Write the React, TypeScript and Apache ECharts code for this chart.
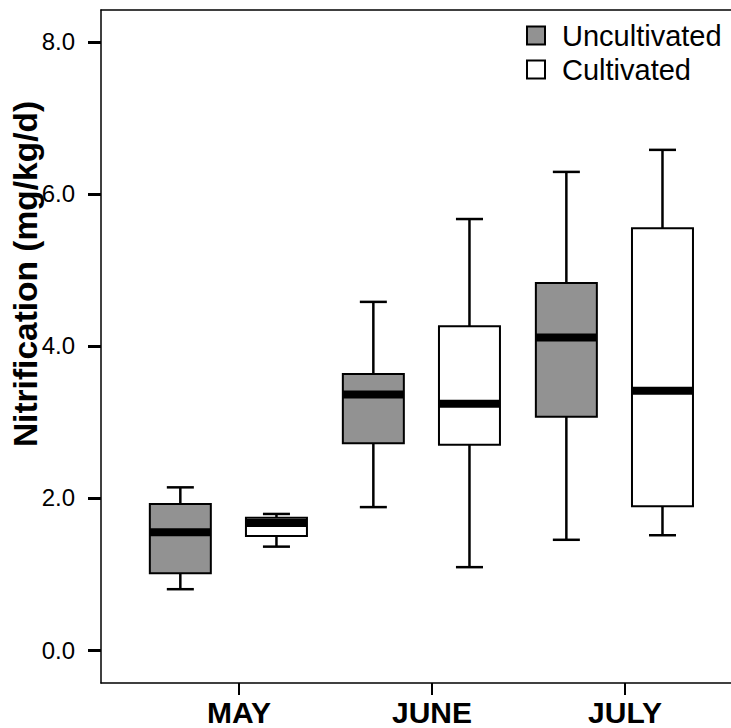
import React, { useEffect, useRef } from "react";
import * as echarts from "echarts";

// ---- data ----
const months = ["MAY", "JUNE", "JULY"];
// [min, Q1, median, Q3, max]
const uncultivated = [
  [0.8, 1.01, 1.55, 1.92, 2.14],
  [1.88, 2.72, 3.36, 3.63, 4.58],
  [1.45, 3.07, 4.11, 4.83, 6.29],
];
const cultivated = [
  [1.36, 1.5, 1.67, 1.74, 1.79],
  [1.09, 2.7, 3.24, 4.26, 5.67],
  [1.51, 1.89, 3.41, 5.55, 6.58],
];
const yTicks = [0, 2, 4, 6, 8];
const seriesNames = ["Uncultivated", "Cultivated"];

// ---- style ----
const FONT = "'Liberation Sans', Arial, Helvetica, sans-serif";
const GRAY = "#929292";
const OFFSETS = [-0.304, 0.194];
const BOX_W = 0.316;
const CAP_W = 0.14;

function makeRender(fill: string) {
  return (params: any, api: any) => {
    const x = api.value(0) + OFFSETS[params.seriesIndex];
    const pMin = api.coord([x, api.value(1)]);
    const pQ1 = api.coord([x, api.value(2)]);
    const pMed = api.coord([x, api.value(3)]);
    const pQ3 = api.coord([x, api.value(4)]);
    const pMax = api.coord([x, api.value(5)]);
    const halfW = api.size([BOX_W, 0])[0] / 2;
    const halfC = api.size([CAP_W, 0])[0] / 2;
    const cx = pMed[0];
    const lineStyle = { stroke: "#000", lineWidth: 2.5 };
    return {
      type: "group",
      children: [
        { type: "line", shape: { x1: cx, y1: pMax[1], x2: cx, y2: pQ3[1] }, style: lineStyle },
        { type: "line", shape: { x1: cx, y1: pQ1[1], x2: cx, y2: pMin[1] }, style: lineStyle },
        { type: "line", shape: { x1: cx - halfC, y1: pMax[1], x2: cx + halfC, y2: pMax[1] }, style: lineStyle },
        { type: "line", shape: { x1: cx - halfC, y1: pMin[1], x2: cx + halfC, y2: pMin[1] }, style: lineStyle },
        {
          type: "rect",
          shape: { x: cx - halfW, y: pQ3[1], width: halfW * 2, height: pQ1[1] - pQ3[1] },
          style: { fill, stroke: "#000", lineWidth: 2 },
        },
        {
          type: "rect",
          shape: { x: cx - halfW, y: pMed[1] - 4, width: halfW * 2, height: 8 },
          style: { fill: "#000" },
        },
      ],
    };
  };
}

export default function App() {
  const ref = useRef<HTMLDivElement>(null);
  useEffect(() => {
    if (!ref.current) return;
    const chart = echarts.init(ref.current, null, { renderer: "svg" });
    const xMin = 0.285;
    const xMax = 3.549;
    chart.setOption({
      animation: false,
      backgroundColor: "#fff",
      textStyle: { fontFamily: FONT },
      grid: { left: 101, top: 10, right: 0, bottom: 45, containLabel: false },
      legend: {
        orient: "vertical",
        left: 521,
        top: 16,
        itemWidth: 18,
        itemHeight: 18,
        itemGap: 5,
        icon: "rect",
        selectedMode: false,
        textStyle: { fontFamily: FONT, fontSize: 29, color: "#000", lineHeight: 28, padding: [0, 0, 0, 12] },
        data: [
          { name: seriesNames[0], itemStyle: { color: GRAY, borderColor: "#000", borderWidth: 2 } },
          { name: seriesNames[1], itemStyle: { color: "#fff", borderColor: "#000", borderWidth: 2 } },
        ],
      },
      xAxis: [
        {
          type: "value",
          position: "bottom",
          min: xMin,
          max: xMax,
          splitLine: { show: false },
          axisLine: { show: true, onZero: false, lineStyle: { color: "#000", width: 1.5 } },
          axisTick: {
            show: true,
            length: 12,
            lineStyle: { color: "#000", width: 2 },
            customValues: months.map((_, i) => i + 1),
          },
          axisLabel: {
            customValues: months.map((_, i) => i + 1),
            formatter: (v: number) => months[Math.round(v) - 1] ?? "",
            fontSize: 30,
            fontWeight: "bold",
            color: "#000",
            fontFamily: FONT,
            margin: 14,
          },
        },
        {
          type: "value",
          position: "top",
          min: xMin,
          max: xMax,
          splitLine: { show: false },
          axisLine: { show: true, onZero: false, lineStyle: { color: "#000", width: 1.5 } },
          axisTick: { show: false },
          axisLabel: { show: false },
        },
      ],
      yAxis: {
        type: "value",
        min: -0.434,
        max: 8.42,
        splitLine: { show: false },
        axisLine: { show: true, onZero: false, lineStyle: { color: "#000", width: 1.5 } },
        axisTick: { show: true, length: 13, lineStyle: { color: "#000", width: 3 }, customValues: yTicks },
        axisLabel: {
          customValues: yTicks,
          formatter: (v: number) => v.toFixed(1),
          fontSize: 24,
          color: "#000",
          fontFamily: FONT,
          margin: 26,
        },
      },
      graphic: [
        {
          type: "text",
          x: 25,
          y: 274,
          rotation: Math.PI / 2,
          style: {
            text: "Nitrification (mg/kg/d)",
            font: `bold 33.5px ${FONT}`,
            fill: "#000",
            align: "center",
            verticalAlign: "middle",
          },
          z: 100,
        },
      ],
      series: [
        {
          name: seriesNames[0],
          type: "custom",
          xAxisIndex: 0,
          itemStyle: { color: GRAY, borderColor: "#000" },
          renderItem: makeRender(GRAY),
          encode: { x: 0, y: [1, 2, 3, 4, 5] },
          data: uncultivated.map((d, i) => [i + 1, ...d]),
        },
        {
          name: seriesNames[1],
          type: "custom",
          xAxisIndex: 0,
          itemStyle: { color: "#fff", borderColor: "#000" },
          renderItem: makeRender("#fff"),
          encode: { x: 0, y: [1, 2, 3, 4, 5] },
          data: cultivated.map((d, i) => [i + 1, ...d]),
        },
      ],
    });
    return () => chart.dispose();
  }, []);
  return (
    <div
      ref={ref}
      style={{ position: "absolute", left: 0, top: 0, width: 731, height: 728 }}
    />
  );
}
